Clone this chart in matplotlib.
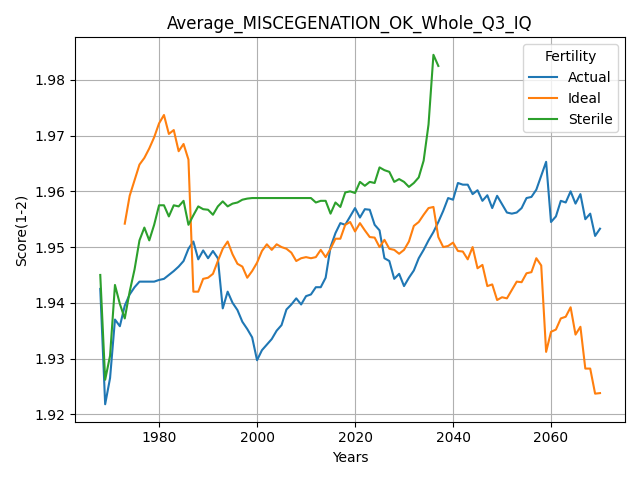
import matplotlib
matplotlib.use("Agg")
import matplotlib.pyplot as plt

actual_start = 1968
actual = [1.9425, 1.9218, 1.9265, 1.9370, 1.9358, 1.9395, 1.9415, 1.9428, 1.9438, 1.9438,
          1.9438, 1.9438, 1.9441, 1.9443, 1.9450, 1.9457, 1.9465, 1.9475, 1.9497, 1.9510,
          1.9478, 1.9494, 1.9480, 1.9493, 1.9480, 1.9390, 1.9420, 1.9400, 1.9387, 1.9366,
          1.9353, 1.9338, 1.9297, 1.9315, 1.9325, 1.9335, 1.9350, 1.9360, 1.9388, 1.9397,
          1.9408, 1.9397, 1.9412, 1.9415, 1.9428, 1.9428, 1.9445, 1.9500, 1.9525, 1.9543,
          1.9540, 1.9555, 1.9570, 1.9553, 1.9568, 1.9567, 1.9540, 1.9530, 1.9480, 1.9475,
          1.9443, 1.9452, 1.9430, 1.9445, 1.9458, 1.9480, 1.9495, 1.9512, 1.9527, 1.9545,
          1.9565, 1.9588, 1.9585, 1.9615, 1.9612, 1.9612, 1.9595, 1.9602, 1.9583, 1.9593,
          1.9570, 1.9592, 1.9577, 1.9570, 1.9562, 1.9560, 1.9562, 1.9570, 1.9588, 1.9590,
          1.9603, 1.9628, 1.9653, 1.9545, 1.9555, 1.9583, 1.9580, 1.9600, 1.9578, 1.9595,
          1.9550, 1.9560, 1.9520, 1.9533]
actual = actual[:94] + actual[94:]  # keep as read

ideal_start = 1973
ideal = [1.9542, 1.9592, 1.9620, 1.9648, 1.9660, 1.9677, 1.9697, 1.9722, 1.9737, 1.9703,
         1.9710, 1.9672, 1.9685, 1.9657, 1.9420, 1.9420, 1.9443, 1.9445, 1.9452, 1.9475,
         1.9497, 1.9510, 1.9487, 1.9470, 1.9465, 1.9445, 1.9457, 1.9472, 1.9493, 1.9505,
         1.9495, 1.9505, 1.9500, 1.9497, 1.9490, 1.9475, 1.9480, 1.9482, 1.9480, 1.9482,
         1.9495, 1.9482, 1.9497, 1.9515, 1.9515, 1.9540, 1.9545, 1.9528, 1.9543, 1.9530,
         1.9518, 1.9517, 1.9500, 1.9513, 1.9497, 1.9495, 1.9488, 1.9495, 1.9510, 1.9538,
         1.9545, 1.9558, 1.9570, 1.9572, 1.9518, 1.9500, 1.9502, 1.9508, 1.9493, 1.9492,
         1.9478, 1.9500, 1.9462, 1.9468, 1.9430, 1.9433, 1.9405, 1.9410, 1.9408, 1.9423,
         1.9438, 1.9437, 1.9453, 1.9455, 1.9480, 1.9467, 1.9312, 1.9348, 1.9352, 1.9372,
         1.9375, 1.9392, 1.9343, 1.9357, 1.9282, 1.9282, 1.9237, 1.9238]

sterile_start = 1968
sterile = [1.9450, 1.9262, 1.9305, 1.9432, 1.9398, 1.9372, 1.9420, 1.9460, 1.9512, 1.9535,
           1.9512, 1.9540, 1.9575, 1.9575, 1.9555, 1.9575, 1.9573, 1.9583, 1.9540, 1.9557,
           1.9573, 1.9568, 1.9567, 1.9558, 1.9573, 1.9582, 1.9573, 1.9578, 1.9580, 1.9585,
           1.9587, 1.9588, 1.9588, 1.9588, 1.9588, 1.9588, 1.9588, 1.9588, 1.9588, 1.9588,
           1.9588, 1.9588, 1.9588, 1.9588, 1.9580, 1.9583, 1.9583, 1.9560, 1.9580, 1.9572,
           1.9598, 1.9600, 1.9597, 1.9617, 1.9610, 1.9617, 1.9615, 1.9643, 1.9638, 1.9635,
           1.9617, 1.9622, 1.9617, 1.9608, 1.9615, 1.9625, 1.9655, 1.9720, 1.9845, 1.9825]

# drop the extra readings so actual ends at 2070
actual = actual[:83] + actual[84:93] + actual[93:]
actual = actual[:len(actual) - (len(actual) - 103)]

fig, ax = plt.subplots(figsize=(6.4, 4.8))
ax.plot(range(actual_start, actual_start + len(actual)), actual, label="Actual")
ax.plot(range(ideal_start, ideal_start + len(ideal)), ideal, label="Ideal")
ax.plot(range(sterile_start, sterile_start + len(sterile)), sterile, label="Sterile")
ax.set_title("Average_MISCEGENATION_OK_Whole_Q3_IQ")
ax.set_xlabel("Years")
ax.set_ylabel("Score(1-2)")
ax.grid(True)
ax.legend(title="Fertility")
plt.tight_layout()
plt.savefig("out.png", dpi=100)
